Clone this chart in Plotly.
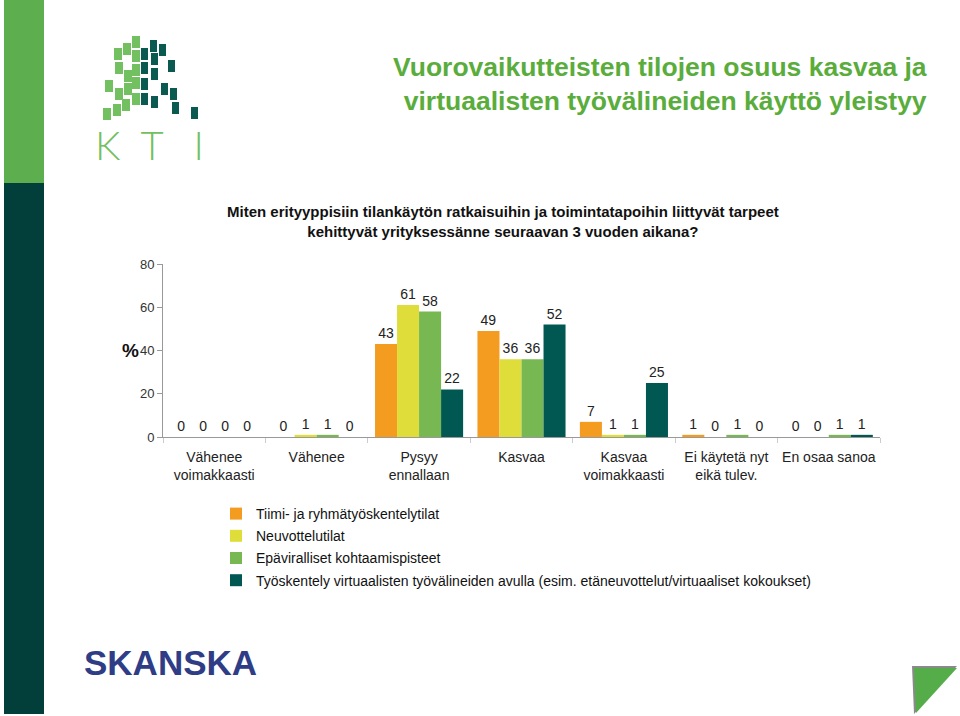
import plotly.graph_objects as go

categories = ["Vähenee<br>voimakkaasti", "Vähenee", "Pysyy<br>ennallaan", "Kasvaa",
              "Kasvaa<br>voimakkaasti", "Ei käytetä nyt<br>eikä tulev.", "En osaa sanoa"]
series_names = ["Tiimi- ja ryhmätyöskentelytilat", "Neuvottelutilat",
                "Epäviralliset kohtaamispisteet",
                "Työskentely virtuaalisten työvälineiden avulla (esim. etäneuvottelut/virtuaaliset kokoukset)"]
tiimi = [0, 0, 43, 49, 7, 1, 0]
neuvottelu = [0, 1, 61, 36, 1, 0, 0]
epavirall = [0, 1, 58, 36, 1, 1, 1]
virtuaali = [0, 0, 22, 52, 25, 0, 1]
y_ticks = [0, 20, 40, 60, 80]
colors = ["#f39c1f", "#dedd3a", "#77b852", "#015852"]

W, H = 960, 716
L, R, T, B = 163, 880, 264, 437  # plot area in pixels


def px(x):
    return (x - L) / (R - L)


def py(y):
    return (B - y) / (B - T)


FONT = "Liberation Sans, Arial, sans-serif"

fig = go.Figure()
for i, (name, vals, col) in enumerate(zip(series_names, [tiimi, neuvottelu, epavirall, virtuaali], colors)):
    fig.add_trace(go.Bar(
        x=categories, y=vals, name=name, marker_color=col, marker_line_width=0,
        legendgroup=f"g{i}",
        text=[str(v) for v in vals], textposition="outside", cliponaxis=False,
        textfont=dict(size=14, color="#222", family=FONT),
    ))

shapes = []
# left band
shapes.append(dict(type="rect", xref="paper", yref="paper", x0=px(4), x1=px(44), y0=py(0), y1=py(183),
                   fillcolor="#5cae4f", line_width=0, layer="below"))
shapes.append(dict(type="rect", xref="paper", yref="paper", x0=px(4), x1=px(44), y0=py(183), y1=py(714),
                   fillcolor="#033f3a", line_width=0, layer="below"))


def tri(pts):
    return "M " + " L ".join(f"{px(x)},{py(y)}" for x, y in pts) + " Z"


# bottom-right triangle with shadow
shapes.append(dict(type="path", xref="paper", yref="paper", path=tri([(912, 666), (957, 666), (914, 714)]),
                   fillcolor="#8a8a8a", line_width=0))
shapes.append(dict(type="path", xref="paper", yref="paper", path=tri([(914, 668), (957, 668), (916, 713)]),
                   fillcolor="#55ad4a", line_width=0))
# KTI logo squares
light = [(114, 48), (123, 43), (132, 36), (115, 62), (132, 50), (124, 70), (132, 64),
         (105, 80), (115, 88), (124, 83), (132, 77), (103, 108), (113, 104), (122, 99), (132, 93)]
dark = [(150, 40), (159, 44), (141, 48), (151, 53), (141, 62), (151, 68), (168, 60),
        (141, 78), (161, 83), (170, 88), (141, 93), (151, 96), (172, 102), (191, 107)]
for (x, y) in light:
    shapes.append(dict(type="rect", xref="paper", yref="paper", x0=px(x), x1=px(x + 8), y0=py(y), y1=py(y + 12),
                       fillcolor="#72c060", line_width=0))
for (x, y) in dark:
    shapes.append(dict(type="rect", xref="paper", yref="paper", x0=px(x), x1=px(x + 7), y0=py(y), y1=py(y + 12),
                       fillcolor="#0b5a52", line_width=0))

annotations = [
    dict(text="Vuorovaikutteisten tilojen osuus kasvaa ja<br>virtuaalisten työvälineiden käyttö yleistyy",
         x=px(929), y=py(50), xref="paper", yref="paper", xanchor="right", yanchor="top", align="right",
         showarrow=False, font=dict(size=26.5, color="#5aad3c", family=FONT, weight="bold")),
    dict(text="Miten erityyppisiin tilankäytön ratkaisuihin ja toimintatapoihin liittyvät tarpeet<br>kehittyvät yrityksessänne seuraavan 3 vuoden aikana?",
         x=px(503), y=py(201), xref="paper", yref="paper", xanchor="center", yanchor="top", align="center",
         showarrow=False, font=dict(size=15, color="#111", family=FONT, weight="bold")),
    dict(text="%", x=px(130), y=py(350), xref="paper", yref="paper", xanchor="center", yanchor="middle",
         showarrow=False, font=dict(size=19, color="#111", family=FONT, weight="bold")),
    dict(text="K\u2002T\u2003I", x=px(149), y=py(145), xref="paper", yref="paper", xanchor="center", yanchor="middle",
         showarrow=False, font=dict(size=40, color="#72c060", family="Lato, sans-serif", weight=300)),
    dict(text="SKANSKA", x=px(82), y=py(662), xref="paper", yref="paper", xanchor="left", yanchor="middle",
         showarrow=False, font=dict(size=35, color="#2f3c86",
                                    family="Liberation Sans, sans-serif", weight="bold")),
]

fig.update_layout(
    width=W, height=H,
    margin=dict(l=L, r=W - R, t=T, b=H - B, pad=0),
    paper_bgcolor="white", plot_bgcolor="white",
    barmode="group", bargap=0.14, bargroupgap=0,
    font=dict(family=FONT, size=13, color="#222"),
    shapes=shapes, annotations=annotations,
    legend=dict(x=px(216), y=py(498), xanchor="left", yanchor="top", orientation="v",
                font=dict(size=14, color="#111", family=FONT), bgcolor="rgba(0,0,0,0)",
                itemwidth=30, tracegroupgap=1),
    yaxis=dict(range=[0, 80], tickvals=y_ticks, showgrid=False, zeroline=False,
               showline=True, linecolor="#999", linewidth=1, ticks="outside", ticklen=5, tickcolor="#999",
               tickfont=dict(size=13, color="#333")),
    xaxis=dict(showgrid=False, showline=True, linecolor="#999", linewidth=1, ticks="outside",
               tickson="boundaries", ticklen=5, tickcolor="#ccc", tickangle=0, ticklabelstandoff=7,
               tickfont=dict(size=14, color="#222")),
)

fig.write_html("out.html", post_script="document.body.style.margin='0';",
               config={"displayModeBar": False})
